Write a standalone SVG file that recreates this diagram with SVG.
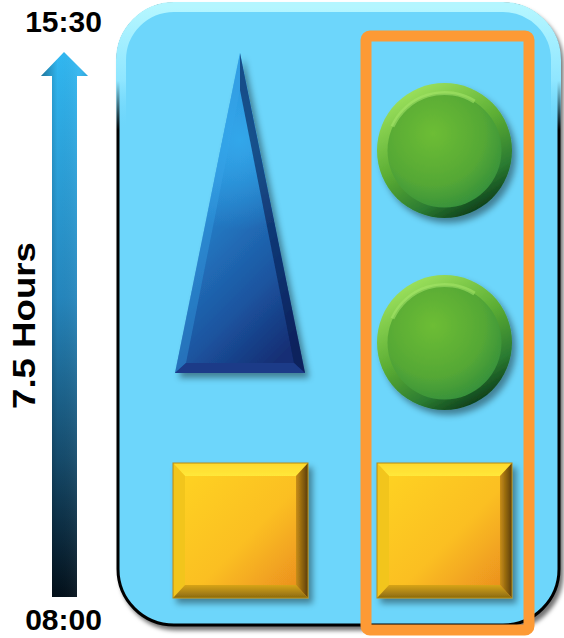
<svg xmlns="http://www.w3.org/2000/svg" width="564" height="638" viewBox="0 0 564 638">
  <style>
    .lbl { font-family: "Liberation Sans", Arial, sans-serif; font-weight: bold; fill: #000; }
  </style>
  <defs>
    <linearGradient id="arrowV" x1="0" y1="0" x2="0" y2="1">
      <stop offset="0" stop-color="#31b8f2"/>
      <stop offset="0.45" stop-color="#2586bd"/>
      <stop offset="0.75" stop-color="#154a6a"/>
      <stop offset="1" stop-color="#03101a"/>
    </linearGradient>
    <linearGradient id="arrowH" x1="0" y1="0" x2="1" y2="0">
      <stop offset="0" stop-color="#000" stop-opacity="0.35"/>
      <stop offset="0.35" stop-color="#000" stop-opacity="0"/>
      <stop offset="0.8" stop-color="#fff" stop-opacity="0.06"/>
      <stop offset="1" stop-color="#000" stop-opacity="0.1"/>
    </linearGradient>
    <linearGradient id="rim" x1="0" y1="0" x2="0" y2="1">
      <stop offset="0" stop-color="#b4f6ff"/>
      <stop offset="0.12" stop-color="#8fe6ff"/>
      <stop offset="0.2" stop-color="#6dd6fb" stop-opacity="0"/>
      <stop offset="1" stop-color="#6dd6fb" stop-opacity="0"/>
    </linearGradient>
    <linearGradient id="triG" x1="0.3" y1="0" x2="0.7" y2="1">
      <stop offset="0" stop-color="#2a9be2"/>
      <stop offset="0.35" stop-color="#2686cf"/>
      <stop offset="0.75" stop-color="#1c55a0"/>
      <stop offset="1" stop-color="#142e74"/>
    </linearGradient>
    <radialGradient id="triGlow" cx="240" cy="140" r="90" gradientUnits="userSpaceOnUse">
      <stop offset="0" stop-color="#38b4f5" stop-opacity="0.7"/>
      <stop offset="1" stop-color="#38b4f5" stop-opacity="0"/>
    </radialGradient>
    <radialGradient id="greenG" cx="0.4" cy="0.35" r="0.75">
      <stop offset="0" stop-color="#6dbd35"/>
      <stop offset="0.6" stop-color="#55a836"/>
      <stop offset="1" stop-color="#2d8a3c"/>
    </radialGradient>
    <linearGradient id="greenRim" x1="0.25" y1="0.05" x2="0.75" y2="0.95">
      <stop offset="0" stop-color="#9be05c"/>
      <stop offset="0.45" stop-color="#5cae34"/>
      <stop offset="0.8" stop-color="#2a7a30"/>
      <stop offset="1" stop-color="#0d3d1a"/>
    </linearGradient>
    <linearGradient id="yelC" x1="0" y1="0" x2="1" y2="1">
      <stop offset="0" stop-color="#ffd520"/>
      <stop offset="0.55" stop-color="#fbbf22"/>
      <stop offset="1" stop-color="#e8861e"/>
    </linearGradient>
    <linearGradient id="yelTop" x1="0" y1="0" x2="0" y2="1">
      <stop offset="0" stop-color="#ffd92c"/>
      <stop offset="1" stop-color="#ffe83a"/>
    </linearGradient>
    <linearGradient id="yelRight" x1="0" y1="0" x2="1" y2="0">
      <stop offset="0" stop-color="#c98e16"/>
      <stop offset="1" stop-color="#5a3d08"/>
    </linearGradient>
    <linearGradient id="yelBot" x1="0" y1="0" x2="0" y2="1">
      <stop offset="0" stop-color="#d7a418"/>
      <stop offset="1" stop-color="#8a6a10"/>
    </linearGradient>
    <filter id="shadow" x="-20%" y="-20%" width="150%" height="150%">
      <feDropShadow dx="4" dy="5" stdDeviation="3" flood-color="#000" flood-opacity="0.4"/>
    </filter>
    <filter id="boxShadow" x="-10%" y="-10%" width="125%" height="125%">
      <feDropShadow dx="3" dy="4" stdDeviation="2" flood-color="#000" flood-opacity="0.55"/>
    </filter>
    <g id="sq">
      <rect x="0" y="0" width="135" height="135" fill="url(#yelC)"/>
      <polygon points="0,0 135,0 123,13 12,13" fill="url(#yelTop)"/>
      <polygon points="0,0 12,13 12,122 0,135" fill="#f2c51e"/>
      <polygon points="135,0 135,135 123,122 123,13" fill="url(#yelRight)"/>
      <polygon points="0,135 12,122 123,122 135,135" fill="url(#yelBot)"/>
      <rect x="0" y="0" width="135" height="135" fill="none" stroke="#b88a10" stroke-width="1"/>
    </g>
    <g id="ball">
      <circle cx="0" cy="0" r="67.5" fill="url(#greenRim)"/>
      <circle cx="0" cy="0" r="57" fill="url(#greenG)"/>
      <path d="M-52,-24 A57,57 0 0 1 30,-49" fill="none" stroke="#a6e66a" stroke-opacity="0.55" stroke-width="4"/>
    </g>
  </defs>

  <g id="timeline-arrow">
    <path d="M52,597 L52,76 L41,76 L64,52 L88,76 L77,76 L77,597 Z" fill="url(#arrowV)"/>
    <path d="M52,597 L52,76 L41,76 L64,52 L88,76 L77,76 L77,597 Z" fill="url(#arrowH)"/>
  </g>

  <g id="label-end">
    <text class="lbl" x="63.5" y="32" font-size="30" text-anchor="middle">15:30</text>
  </g>
  <g id="label-start">
    <text class="lbl" x="63.5" y="630" font-size="30" text-anchor="middle">08:00</text>
  </g>
  <g id="label-duration">
    <text class="lbl" transform="translate(35,325.5) rotate(-90)" x="0" y="0" font-size="31" text-anchor="middle" textLength="167" lengthAdjust="spacingAndGlyphs">7.5 Hours</text>
  </g>

  <g id="container">
    <rect x="118" y="4" width="441" height="621" rx="56" ry="56" fill="#6dd6fb" stroke="#000" stroke-width="3" filter="url(#boxShadow)"/>
    <rect x="121" y="7" width="435" height="615" rx="53" ry="53" fill="none" stroke="url(#rim)" stroke-width="10"/>
  </g>

  <g id="triangle" filter="url(#shadow)">
    <polygon points="240,53 305,373 175,373" fill="url(#triG)"/>
    <polygon points="240,53 305,373 175,373" fill="url(#triGlow)"/>
    <polygon points="240,53 175,373 186,363 240,90" fill="#3aa6ea" opacity="0.35"/>
    <polygon points="240,53 305,373 294,363 240,90" fill="#081a4e" opacity="0.6"/>
    <polygon points="175,373 305,373 294,363 186,363" fill="#1d3a88"/>
  </g>

  <g id="circle-top" filter="url(#shadow)">
    <use href="#ball" transform="translate(444.5,150.5)"/>
  </g>
  <g id="circle-middle" filter="url(#shadow)">
    <use href="#ball" transform="translate(444.5,342.5)"/>
  </g>

  <g id="square-left" filter="url(#shadow)">
    <use href="#sq" transform="translate(173,463)"/>
  </g>
  <g id="square-right" filter="url(#shadow)">
    <use href="#sq" transform="translate(377,463)"/>
  </g>

  <g id="highlight-box">
    <rect x="366" y="36" width="163" height="594" rx="4" ry="4" fill="none" stroke="#fd9a35" stroke-width="11"/>
  </g>
</svg>
